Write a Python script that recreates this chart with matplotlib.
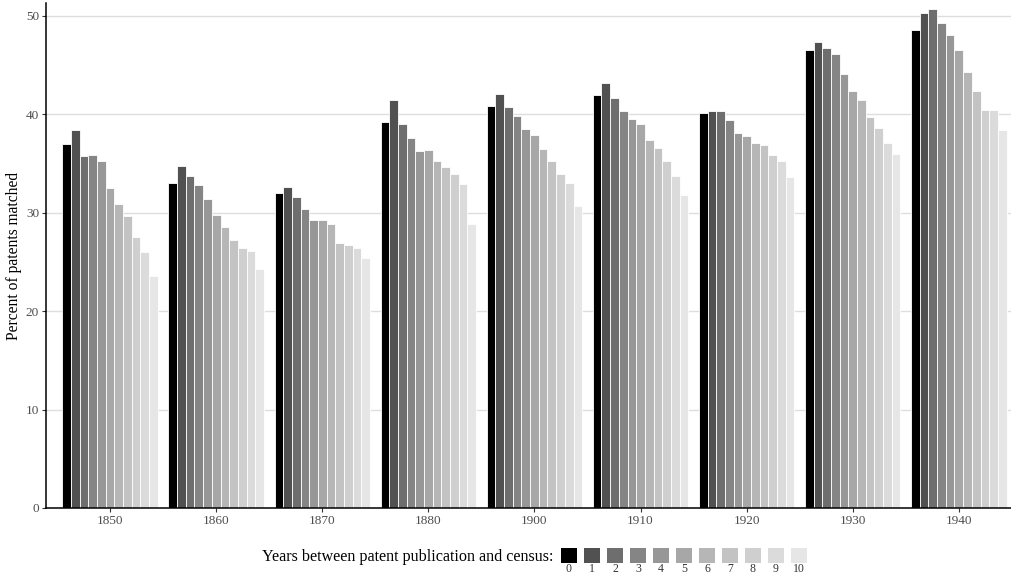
import matplotlib
matplotlib.use("Agg")
import matplotlib.pyplot as plt
from matplotlib.patches import Rectangle

plt.rcParams['font.family'] = ['Liberation Serif', 'DejaVu Serif']

# percent of patents matched, by census year, for 0..10 years gap
census_years = ['1850', '1860', '1870', '1880', '1900', '1910', '1920', '1930', '1940']
gap_labels = ['0', '1', '2', '3', '4', '5', '6', '7', '8', '9', '10']

m1850 = [37.0, 38.4, 35.8, 35.9, 35.2, 32.5, 30.9, 29.7, 27.5, 26.0, 23.6]
m1860 = [33.0, 34.7, 33.7, 32.8, 31.4, 29.8, 28.5, 27.2, 26.4, 26.1, 24.3]
m1870 = [32.0, 32.6, 31.6, 30.4, 29.3, 29.3, 28.8, 26.9, 26.7, 26.4, 25.4]
m1880 = [39.2, 41.4, 39.0, 37.6, 36.3, 36.4, 35.2, 34.6, 33.9, 32.9, 28.9]
m1900 = [40.8, 42.1, 40.7, 39.8, 38.5, 37.9, 36.5, 35.2, 33.9, 33.0, 30.7]
m1910 = [42.0, 43.2, 41.6, 40.3, 39.5, 39.0, 37.4, 36.6, 35.3, 33.7, 31.8]
m1920 = [40.1, 40.3, 40.3, 39.4, 38.1, 37.8, 37.1, 36.9, 35.9, 35.3, 33.6]
m1930 = [46.5, 47.3, 46.7, 46.1, 44.1, 42.4, 41.4, 39.7, 38.6, 37.1, 36.0]
m1940 = [48.6, 50.3, 50.7, 49.3, 48.0, 46.5, 44.3, 42.4, 40.4, 40.4, 38.4]
matched = [m1850, m1860, m1870, m1880, m1900, m1910, m1920, m1930, m1940]

# grey ramp, black -> light grey
greys = ['#000000', '#515151', '#6E6E6E', '#858585', '#979797', '#A7A7A7',
         '#B6B6B6', '#C3C3C3', '#CFCFCF', '#DBDBDB', '#E6E6E6']

W, H = 1011, 573
fig = plt.figure(figsize=(W / 100, H / 100), dpi=100)
ax = fig.add_axes([46 / W, (H - 508) / H, 1 - 46 / W, (508 - 3) / H])

n = len(gap_labels)
bw = 0.9 / n
for g, vals in enumerate(matched):
    for k, v in enumerate(vals):
        ax.bar(g + (k - (n - 1) / 2) * bw, v, width=bw, color=greys[k],
               edgecolor='white', linewidth=0.6, zorder=2)

ax.set_xlim(-0.604, 8.492)
ax.set_ylim(0, 51.3)
ax.set_xticks(range(len(census_years)))
ax.set_xticklabels(census_years)
ax.set_yticks([0, 10, 20, 30, 40, 50])
ax.yaxis.grid(True, color='#DEDEDE', linewidth=1.0, zorder=0)
ax.set_axisbelow(True)
for s in ['top', 'right']:
    ax.spines[s].set_visible(False)
for s in ['left', 'bottom']:
    ax.spines[s].set_linewidth(1.1)
    ax.spines[s].set_color('black')
ax.tick_params(axis='both', length=3, width=0.8, color='#333333',
               labelcolor='#4D4D4D', labelsize=9.5, pad=2)
ax.set_ylabel('Percent of patents matched', fontsize=11.2, labelpad=2.5)

# legend along the bottom: title, boxes, labels underneath
fig.text(262 / W, 1 - 557 / H, 'Years between patent publication and census:',
         fontsize=11.6, ha='left', va='center')
for k, lab in enumerate(gap_labels):
    x0 = 561 + 23 * k
    fig.patches.append(Rectangle((x0 / W, 1 - 563 / H), 16 / W, 15 / H,
                                 transform=fig.transFigure, facecolor=greys[k],
                                 edgecolor='none'))
    fig.text((x0 + 8) / W, 1 - 572 / H, lab, fontsize=8.5, color='#333333',
             ha='center', va='baseline')

fig.savefig('out.png', dpi=100)
